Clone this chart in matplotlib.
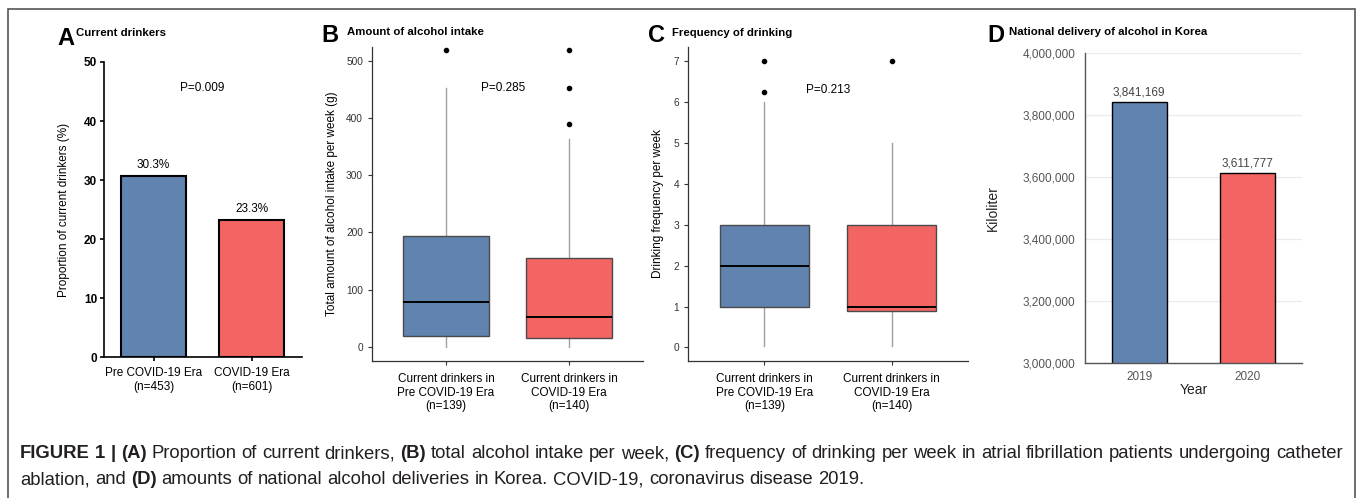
import matplotlib
matplotlib.use("Agg")
import matplotlib.pyplot as plt
from matplotlib.patches import Rectangle

plt.rcParams['font.family'] = ['Liberation Sans', 'DejaVu Sans']

# ---- data ----
groups_a = ["Pre COVID-19 Era\n(n=453)", "COVID-19 Era\n(n=601)"]
prop_drinkers = [30.7, 23.3]
prop_labels = ["30.3%", "23.3%"]

groups_bc = ["Current drinkers in\nPre COVID-19 Era\n(n=139)",
             "Current drinkers in\nCOVID-19 Era\n(n=140)"]

# amount of alcohol intake (g/week): q1, median, q3, whisker low, whisker high, outliers
intake_q1 = [20, 15]
intake_med = [78, 52]
intake_q3 = [194, 155]
intake_lo = [0, 0]
intake_hi = [453, 363]
intake_out = [[518], [518, 453, 389]]

# drinking frequency per week
freq_q1 = [1.0, 0.88]
freq_med = [2.0, 1.0]
freq_q3 = [3.0, 3.0]
freq_lo = [0.03, 0.03]
freq_hi = [6.0, 5.0]
freq_out = [[7.0, 6.25], [7.0]]

years = ["2019", "2020"]
delivery = [3841169, 3611777]

blue = "#6183B0"
red = "#F26563"
cols = [blue, red]

W, H = 1360, 498
fig = plt.figure(figsize=(W / 100, H / 100), dpi=100)


def px_axes(x0, y0, x1, y1):
    return fig.add_axes([x0 / W, 1 - y1 / H, (x1 - x0) / W, (y1 - y0) / H])


def ftext(x, y, s, **kw):
    return fig.text(x / W, 1 - y / H, s, **kw)


# outer frame
fig.patches.append(Rectangle((8 / W, -0.05), (1355 - 8) / W, 1 - 9 / H + 0.05,
                             transform=fig.transFigure, fill=False,
                             edgecolor="#555555", linewidth=1.2))

TITLE_FS = 8.2

# ---------- panel A ----------
ax = px_axes(104, 62, 302, 357)
ax.bar([0, 1], prop_drinkers, width=0.66, color=cols, edgecolor="black", linewidth=1.5)
ax.set_xlim(-0.505, 1.515)
ax.set_ylim(0, 50)
ax.set_yticks([0, 10, 20, 30, 40, 50])
ax.set_yticklabels(["0", "10", "20", "30", "40", "50"], fontweight="bold", fontsize=8.5)
ax.set_xticks([0, 1])
ax.set_xticklabels(groups_a, fontsize=8.5, linespacing=1.15)
for s in ["top", "right"]:
    ax.spines[s].set_visible(False)
for s in ["left", "bottom"]:
    ax.spines[s].set_linewidth(1.2)
ax.tick_params(length=3, width=1.2, pad=2)
ax.tick_params(axis="x", pad=4.5)
ax.set_ylabel("Proportion of current drinkers (%)", fontsize=8.5, labelpad=10)
for i, v in enumerate(prop_drinkers):
    ax.text(i, v + 0.8, prop_labels[i], ha="center", va="bottom", fontsize=8.5)
ax.text(0.5, 45.6, "P=0.009", ha="center", va="center", fontsize=8.5)
ftext(57, 38, "A", fontsize=17, fontweight="bold", va="center")
ftext(76, 33, "Current drinkers", fontsize=TITLE_FS, fontweight="bold", va="center")


def boxpanel(ax, q1, med, q3, lo, hi, out):
    stats = []
    for i in range(2):
        stats.append(dict(q1=q1[i], med=med[i], q3=q3[i], whislo=lo[i],
                          whishi=hi[i], fliers=out[i]))
    b = ax.bxp(stats, positions=[0, 1], widths=0.7, patch_artist=True,
               showcaps=False,
               boxprops=dict(edgecolor="#4a4a4a", linewidth=1.0),
               medianprops=dict(color="black", linewidth=1.4),
               whiskerprops=dict(color="#a0a0a0", linewidth=1.0),
               flierprops=dict(marker="o", markersize=3, markerfacecolor="black",
                               markeredgecolor="black"))
    for p, c in zip(b["boxes"], cols):
        p.set_facecolor(c)
    for w in b["whiskers"]:
        w.set_zorder(0.5)
    ax.set_xlim(-0.6, 1.6)
    ax.set_xticks([0, 1])
    ax.set_xticklabels(groups_bc, fontsize=8.5, linespacing=1.2)
    for s in ["top", "right"]:
        ax.spines[s].set_visible(False)
    for s in ["left", "bottom"]:
        ax.spines[s].set_color("#333333")
        ax.spines[s].set_linewidth(0.9)
    ax.tick_params(axis="y", labelsize=7.3, labelcolor="#333333", length=3,
                   color="#333333", width=0.8)
    ax.tick_params(axis="x", length=3, color="#333333", width=0.8, pad=5.5)


# ---------- panel B ----------
ax = px_axes(372, 47, 643, 361)
boxpanel(ax, intake_q1, intake_med, intake_q3, intake_lo, intake_hi, intake_out)
ax.set_ylim(-24.5, 524)
ax.set_yticks([0, 100, 200, 300, 400, 500])
ax.set_ylabel("Total amount of alcohol intake per week (g)", fontsize=8.5, labelpad=6)
ax.text(0.463, 453, "P=0.285", ha="center", va="center", fontsize=8.5)
ftext(321, 36, "B", fontsize=17, fontweight="bold", va="center")
ftext(347, 32, "Amount of alcohol intake", fontsize=TITLE_FS, fontweight="bold", va="center")

# ---------- panel C ----------
ax = px_axes(688, 47, 968, 361)
boxpanel(ax, freq_q1, freq_med, freq_q3, freq_lo, freq_hi, freq_out)
ax.set_ylim(-0.33, 7.34)
ax.set_yticks(range(8))
ax.set_ylabel("Drinking frequency per week", fontsize=8.5, labelpad=7)
ax.text(0.5, 6.3, "P=0.213", ha="center", va="center", fontsize=8.5)
ftext(648, 36, "C", fontsize=17, fontweight="bold", va="center")
ftext(672, 33, "Frequency of drinking", fontsize=TITLE_FS, fontweight="bold", va="center")

# ---------- panel D ----------
ax = px_axes(1085, 53, 1302, 363)
ax.bar([0, 1], delivery, width=0.505, color=cols, edgecolor="black", linewidth=1.0,
       zorder=2)
ax.set_xlim(-0.5, 1.5)
ax.set_ylim(3000000, 4000000)
yt = [3000000, 3200000, 3400000, 3600000, 3800000, 4000000]
ax.set_yticks(yt)
ax.set_yticklabels([f"{v:,}" for v in yt])
ax.yaxis.grid(True, color="#ebebeb", linewidth=0.9, zorder=0)
ax.set_axisbelow(True)
ax.set_xticks([0, 1])
ax.set_xticklabels(years)
for s in ["top", "right"]:
    ax.spines[s].set_visible(False)
for s in ["left", "bottom"]:
    ax.spines[s].set_color("#555555")
    ax.spines[s].set_linewidth(1.0)
ax.tick_params(axis="both", length=0, labelsize=8.5, labelcolor="#555555", pad=7)
ax.tick_params(axis="x", pad=6)
ax.set_xlabel("Year", fontsize=10, color="#222222", labelpad=0)
ax.set_ylabel("Kiloliter", fontsize=10, color="#222222", labelpad=16)
for i, v in enumerate(delivery):
    ax.text(i, v + 12000, f"{v:,}", ha="center", va="bottom", fontsize=8.5,
            color="#444444")
ftext(987, 35, "D", fontsize=17, fontweight="bold", va="center")
ftext(1009, 32, "National delivery of alcohol in Korea", fontsize=TITLE_FS,
      fontweight="bold", va="center")

# ---------- caption ----------
line1 = [("FIGURE 1 | ", True), ("(A)", True), (" Proportion of current drinkers, ", False),
         ("(B)", True), (" total alcohol intake per week, ", False), ("(C)", True),
         (" frequency of drinking per week in atrial fibrillation patients undergoing catheter", False)]
line2 = [("ablation, and ", False), ("(D)", True),
         (" amounts of national alcohol deliveries in Korea. COVID-19, coronavirus disease 2019.", False)]

CAP_FAMILY = ["Liberation Sans", "DejaVu Sans"]
CAP_FS = 14.5

renderer = fig.canvas.get_renderer()


def words_of(parts):
    # split the styled line into words; each word is a list of (text, bold) runs
    chars = [(c, b) for s, b in parts for c in s]
    words, cur = [], []
    for c, b in chars:
        if c == " ":
            if cur:
                words.append(cur)
            cur = []
            continue
        if cur and cur[-1][1] == b:
            cur[-1] = (cur[-1][0] + c, b)
        else:
            cur.append((c, b))
    if cur:
        words.append(cur)
    return words


def measure(s, bold, fs):
    t = ftext(0, 0, s, fontsize=fs, family=CAP_FAMILY,
              fontweight="bold" if bold else "normal")
    w = t.get_window_extent(renderer=renderer).width
    t.remove()
    return w


def natural(parts, fs):
    words = words_of(parts)
    sp = measure("a a", False, fs) - 2 * measure("a", False, fs)
    return sum(measure(s, b, fs) for wd in words for s, b in wd) + sp * (len(words) - 1)


# largest caption size at which line 1 fits the frame with plain spacing
while natural(line1, CAP_FS) > 1323 and CAP_FS > 8:
    CAP_FS -= 0.1


def place_line(parts, y, x0, x1=None):
    words = words_of(parts)
    widths = [sum(measure(s, b, CAP_FS) for s, b in wd) for wd in words]
    sp = measure("a a", False, CAP_FS) - 2 * measure("a", False, CAP_FS)
    if x1 is not None:
        sp = (x1 - x0 - sum(widths)) / (len(words) - 1)
    x = x0
    for wd, wdt in zip(words, widths):
        xx = x
        for s, b in wd:
            ftext(xx, y, s, fontsize=CAP_FS, family=CAP_FAMILY,
                  fontweight="bold" if b else "normal",
                  color="#231f20", va="baseline", ha="left")
            xx += measure(s, b, CAP_FS)
        x += wdt + sp


place_line(line1, 458, 20, 1343)
place_line(line2, 484, 20)

fig.savefig("out.png", dpi=100)
